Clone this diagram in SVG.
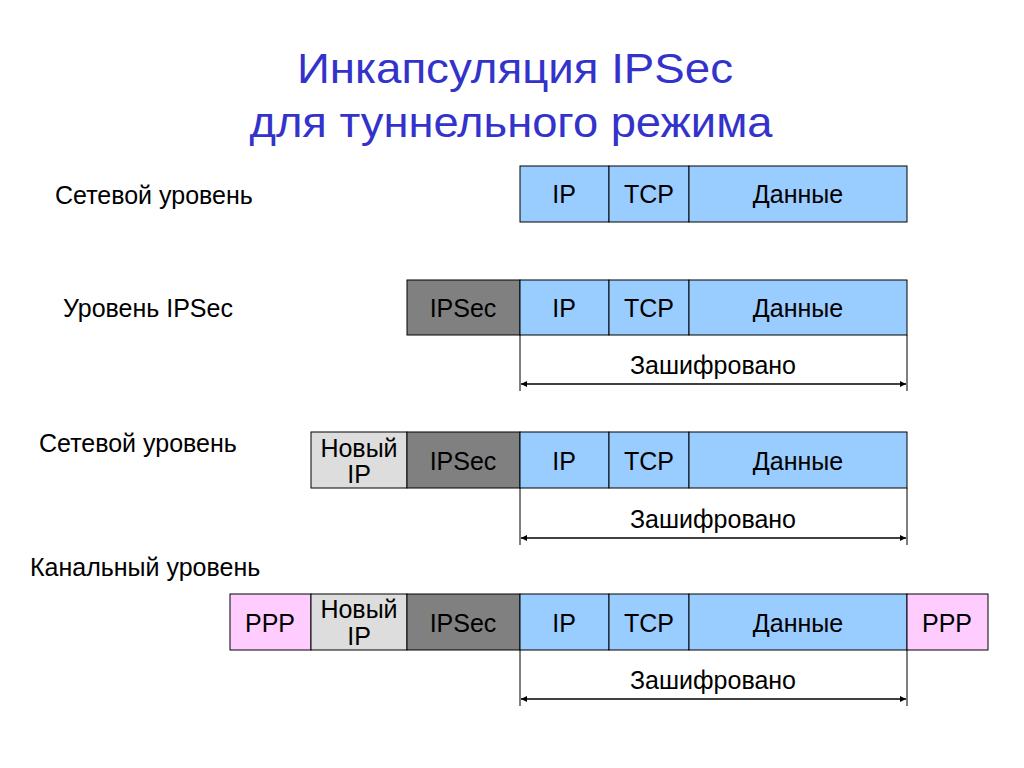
<svg xmlns="http://www.w3.org/2000/svg" width="1024" height="768" viewBox="0 0 1024 768">
<defs>
<style>
text{font-family:"Liberation Sans",Arial,sans-serif;fill:#000}
.t{font-size:43px;fill:#3333cc;text-anchor:middle}
.l{font-size:25px}
.c{font-size:25px;text-anchor:middle}
.b{fill:#99ccff;stroke:#000;stroke-width:1}
.g{fill:#808080;stroke:#000;stroke-width:1}
.lg{fill:#dddddd;stroke:#000;stroke-width:1}
.p{fill:#ffccff;stroke:#000;stroke-width:1}
.v{stroke:#000;stroke-width:1;fill:none}
.a{stroke:#000;stroke-width:1.5;fill:none;marker-start:url(#ah);marker-end:url(#ah)}
</style>
<marker id="ah" viewBox="0 0 10 10" refX="10" refY="5" markerWidth="7" markerHeight="6" orient="auto-start-reverse" markerUnits="userSpaceOnUse">
<path d="M0,0 L10,5 L0,10 z" fill="#000"/>
</marker>
</defs>
<rect width="1024" height="768" fill="#fff"/>
<text class="t" x="515" y="83" textLength="436" lengthAdjust="spacingAndGlyphs">Инкапсуляция IPSec</text>
<text class="t" x="511" y="137" textLength="523" lengthAdjust="spacingAndGlyphs">для туннельного режима</text>

<text class="l" x="55" y="204">Сетевой уровень</text>
<text class="l" x="63" y="317">Уровень IPSec</text>
<text class="l" x="39" y="452">Сетевой уровень</text>
<text class="l" x="30" y="576">Канальный уровень</text>

<g id="row1">
<rect class="b" x="520" y="166" width="89" height="56"/>
<rect class="b" x="609" y="166" width="80" height="56"/>
<rect class="b" x="689" y="166" width="218" height="56"/>
<text class="c" x="564" y="203">IP</text>
<text class="c" x="649" y="203">TCP</text>
<text class="c" x="798" y="203">Данные</text>
</g>

<g id="row2">
<rect class="g" x="407" y="280" width="113" height="55"/>
<rect class="b" x="520" y="280" width="89" height="55"/>
<rect class="b" x="609" y="280" width="80" height="55"/>
<rect class="b" x="689" y="280" width="218" height="55"/>
<text class="c" x="463" y="317">IPSec</text>
<text class="c" x="564" y="317">IP</text>
<text class="c" x="649" y="317">TCP</text>
<text class="c" x="798" y="317">Данные</text>
</g>

<g id="row3">
<rect class="lg" x="311" y="432" width="96" height="56"/>
<rect class="g" x="407" y="432" width="113" height="56"/>
<rect class="b" x="520" y="432" width="89" height="56"/>
<rect class="b" x="609" y="432" width="80" height="56"/>
<rect class="b" x="689" y="432" width="218" height="56"/>
<text class="c" x="359" y="457">Новый</text>
<text class="c" x="359" y="483">IP</text>
<text class="c" x="463" y="470">IPSec</text>
<text class="c" x="564" y="470">IP</text>
<text class="c" x="649" y="470">TCP</text>
<text class="c" x="798" y="470">Данные</text>
</g>

<g id="row4">
<rect class="p" x="230" y="594" width="81" height="56"/>
<rect class="lg" x="311" y="594" width="96" height="56"/>
<rect class="g" x="407" y="594" width="113" height="56"/>
<rect class="b" x="520" y="594" width="89" height="56"/>
<rect class="b" x="609" y="594" width="80" height="56"/>
<rect class="b" x="689" y="594" width="218" height="56"/>
<rect class="p" x="907" y="594" width="81" height="56"/>
<text class="c" x="270" y="632">PPP</text>
<text class="c" x="359" y="618">Новый</text>
<text class="c" x="359" y="645">IP</text>
<text class="c" x="463" y="632">IPSec</text>
<text class="c" x="564" y="632">IP</text>
<text class="c" x="649" y="632">TCP</text>
<text class="c" x="798" y="632">Данные</text>
<text class="c" x="947" y="632">PPP</text>
</g>

<g id="connectors">
<line class="v" x1="520" y1="335" x2="520" y2="391"/>
<line class="v" x1="907" y1="335" x2="907" y2="391"/>
<line class="a" x1="521" y1="384" x2="906" y2="384"/>
<line class="v" x1="520" y1="488" x2="520" y2="545"/>
<line class="v" x1="907" y1="488" x2="907" y2="545"/>
<line class="a" x1="521" y1="538" x2="906" y2="538"/>
<line class="v" x1="520" y1="650" x2="520" y2="706"/>
<line class="v" x1="907" y1="650" x2="907" y2="706"/>
<line class="a" x1="521" y1="699" x2="906" y2="699"/>
</g>
<g id="labels">
<text class="c" x="713" y="374">Зашифровано</text>
<text class="c" x="713" y="528">Зашифровано</text>
<text class="c" x="713" y="689">Зашифровано</text>
</g>
</svg>
